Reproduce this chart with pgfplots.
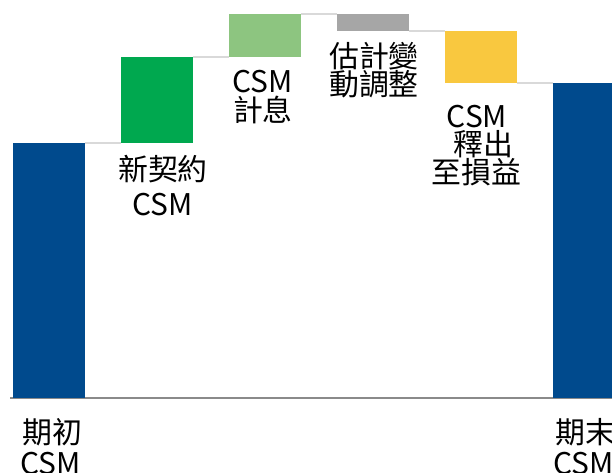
\documentclass[border=0pt]{standalone}
\usepackage{fontspec}
\setmainfont{Noto Sans CJK TC}
\usepackage{pgfplots}
\pgfplotsset{compat=1.18}
\definecolor{csmblue}{HTML}{004A8D}
\definecolor{csmgreen}{HTML}{00A84F}
\definecolor{csmltgreen}{HTML}{8DC580}
\definecolor{csmgray}{HTML}{A6A6A6}
\definecolor{csmyellow}{HTML}{F9C83F}
\definecolor{connector}{HTML}{D9D9D9}
\definecolor{basegray}{HTML}{8A8A8A}
\pgfplotsset{
  wfaxis/.style={
    hide axis, scale only axis,
    width=612bp, height=473bp,
    xmin=-0.4537, xmax=5.2130, ymin=-75, ymax=398,
    at={(0,0)}, anchor=south west,
  },
}
\tikzset{lbl/.style={inner sep=0pt, font=\fontsize{30}{30}\selectfont, text=black}}

% waterfall steps: invisible base plus one visible layer per bar
\pgfplotstableread{
x base d1 d2 d3 d4 d5 d6
0 0   255 0  0  0  0  0
1 255 0   86 0  0  0  0
2 341 0   0  43 0  0  0
3 367 0   0  0  17 0  0
4 315 0   0  0  0  52 0
5 0   0   0  0  0  0  315
}\csmsteps

\begin{document}
\begin{tikzpicture}
\useasboundingbox (0,0) rectangle (612bp,473bp);
\clip (0,0) rectangle (612bp,473bp);
% baseline and connectors
\begin{axis}[wfaxis]
\addplot[basegray, line width=2bp] coordinates {(-0.361,0) (5.3,0)};
\addplot[connector, line width=2bp] coordinates {(0.3333,255) (0.6667,255)};
\addplot[connector, line width=2bp] coordinates {(1.3333,341) (1.6667,341)};
\addplot[connector, line width=2bp] coordinates {(2.3333,384) (2.6667,384)};
\addplot[connector, line width=2bp] coordinates {(3.3333,367) (3.6667,367)};
\addplot[connector, line width=2bp] coordinates {(4.3333,315) (4.6667,315)};
\end{axis}
% bars and labels
\begin{axis}[wfaxis, ybar stacked, bar width=0.6667]
\addplot[fill=none, draw=none] table[y=base] {\csmsteps};
\addplot[fill=csmblue, draw=none] table[y=d1] {\csmsteps};
\addplot[fill=csmgreen, draw=none] table[y=d2] {\csmsteps};
\addplot[fill=csmltgreen, draw=none] table[y=d3] {\csmsteps};
\addplot[fill=csmgray, draw=none] table[y=d4] {\csmsteps};
\addplot[fill=csmyellow, draw=none] table[y=d5] {\csmsteps};
\addplot[fill=csmblue, draw=none] table[y=d6] {\csmsteps};

\node[lbl, anchor=north] at (axis cs:0.028,-20) {期初};
\node[lbl, anchor=north] at (axis cs:0.014,-54) {CSM};
\node[lbl, anchor=north] at (axis cs:1.056,243) {新契約};
\node[lbl, anchor=north] at (axis cs:1.052,205) {CSM};
\node[lbl, anchor=north] at (axis cs:1.977,328) {CSM};
\node[lbl, anchor=north] at (axis cs:1.981,302) {計息};
\node[lbl, anchor=north] at (axis cs:3.009,356) {估計變};
\node[lbl, anchor=north] at (axis cs:3.009,328) {動調整};
\node[lbl, anchor=north] at (axis cs:3.963,293) {CSM};
\node[lbl, anchor=north] at (axis cs:4.019,268) {釋出};
\node[lbl, anchor=north] at (axis cs:3.958,240) {至損益};
\node[lbl, anchor=north] at (axis cs:4.963,-20) {期末};
\node[lbl, anchor=north] at (axis cs:4.950,-54) {CSM};
\end{axis}
\end{tikzpicture}
\end{document}
